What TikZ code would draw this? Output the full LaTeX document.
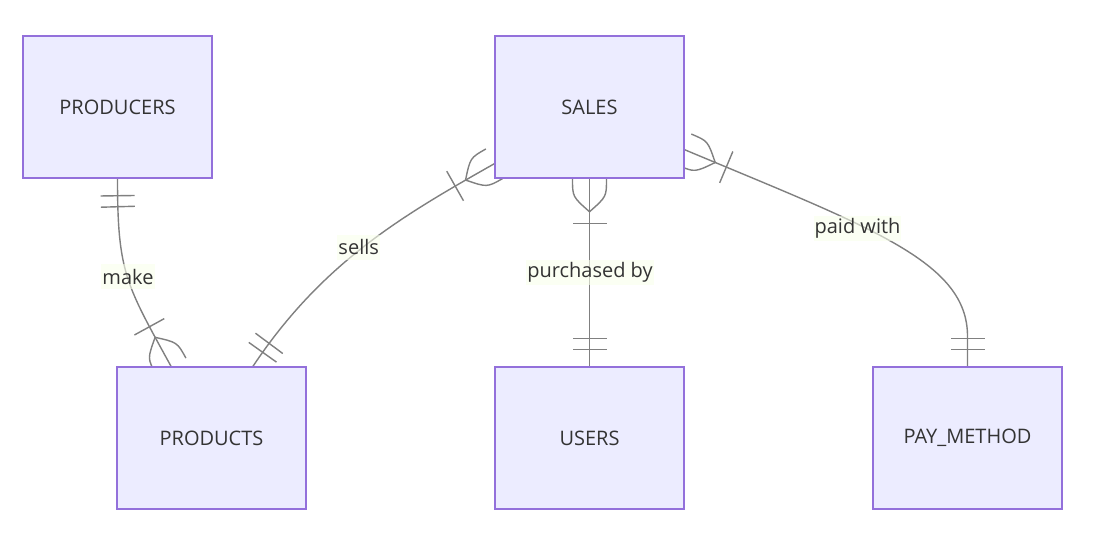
\documentclass[tikz,border=0pt]{standalone}
\usepackage{fontspec}
\setmainfont{Open Sans}
\usetikzlibrary{decorations.markings}
\definecolor{boxfill}{HTML}{ECECFF}
\definecolor{boxline}{HTML}{9370DB}
\definecolor{edgecol}{HTML}{808080}
\definecolor{labfill}{RGB}{249,255,236}
\definecolor{txt}{HTML}{333333}
\tikzset{
  entity/.style={draw=boxline, fill=boxfill, line width=1.5pt, minimum width=189pt, minimum height=142pt, inner sep=0pt, text=txt, font=\fontsize{20}{24}\selectfont},
  edgeline/.style={draw=edgecol, line width=1.4pt},
  lab/.style={fill=labfill, fill opacity=0.6, text opacity=1, text=txt, inner xsep=1pt, inner ysep=0pt, minimum height=25pt, font=\fontsize{20}{24}\selectfont},
  manyone/.style={edgeline, postaction={decorate, decoration={markings,
    mark=at position 0 with {\draw[edgeline] (45,-17)--(45,17);
      \draw[edgeline] (0,17) .. controls (18,17) .. (33,0) .. controls (18,-17) .. (0,-17);},
    mark=at position -28pt with {\draw[edgeline] (0,-17)--(0,17);},
    mark=at position -17pt with {\draw[edgeline] (0,-17)--(0,17);}
  }}}
}
\begin{document}
\begin{tikzpicture}[x=1pt,y=-1pt]
\fill[white] (0,0) rectangle (1094,543);
\useasboundingbox (0,0) rectangle (1094,543);
% entity nodes (positions)
\node[entity] (producers) at (117.5,107) {PRODUCERS};
\node[entity] (sales) at (589.5,107) {SALES};
\node[entity] (products) at (211.5,438) {PRODUCTS};
\node[entity] (users) at (589.5,438) {USERS};
\node[entity] (pay) at (967.5,438) {PAY\_METHOD};
\coordinate (paybend) at ([yshift=30pt]pay.north);
% edges (from the many side to the one side)
\draw[manyone] ([xshift=-40.5pt]products.north) .. controls +(-45,-82) and +(0,94) .. (producers.south);
\draw[manyone] ([yshift=15pt]sales.south west) .. controls +(-90,51) and +(70,-105) .. ([xshift=41.5pt]products.north);
\draw[manyone] (sales.south) -- (users.north);
\draw[manyone] ([yshift=29pt]sales.south east) .. controls +(186,78) and +(0,-75) .. (paybend) -- (pay.north);
% redraw boxes on top
\node[entity] at (producers) {PRODUCERS};
\node[entity] at (sales) {SALES};
\node[entity] at (products) {PRODUCTS};
\node[entity] at (users) {USERS};
\node[entity] at (pay) {PAY\_METHOD};
% labels
\node[lab] (lmake) at (128,276.5) {make};
\node[lab] (lsells) at (358.7,247) {sells};
\node[lab] (lpurch) at (590,272.5) {purchased by};
\node[lab] (lpaid) at (857.5,228) {paid with};
\end{tikzpicture}
\end{document}
